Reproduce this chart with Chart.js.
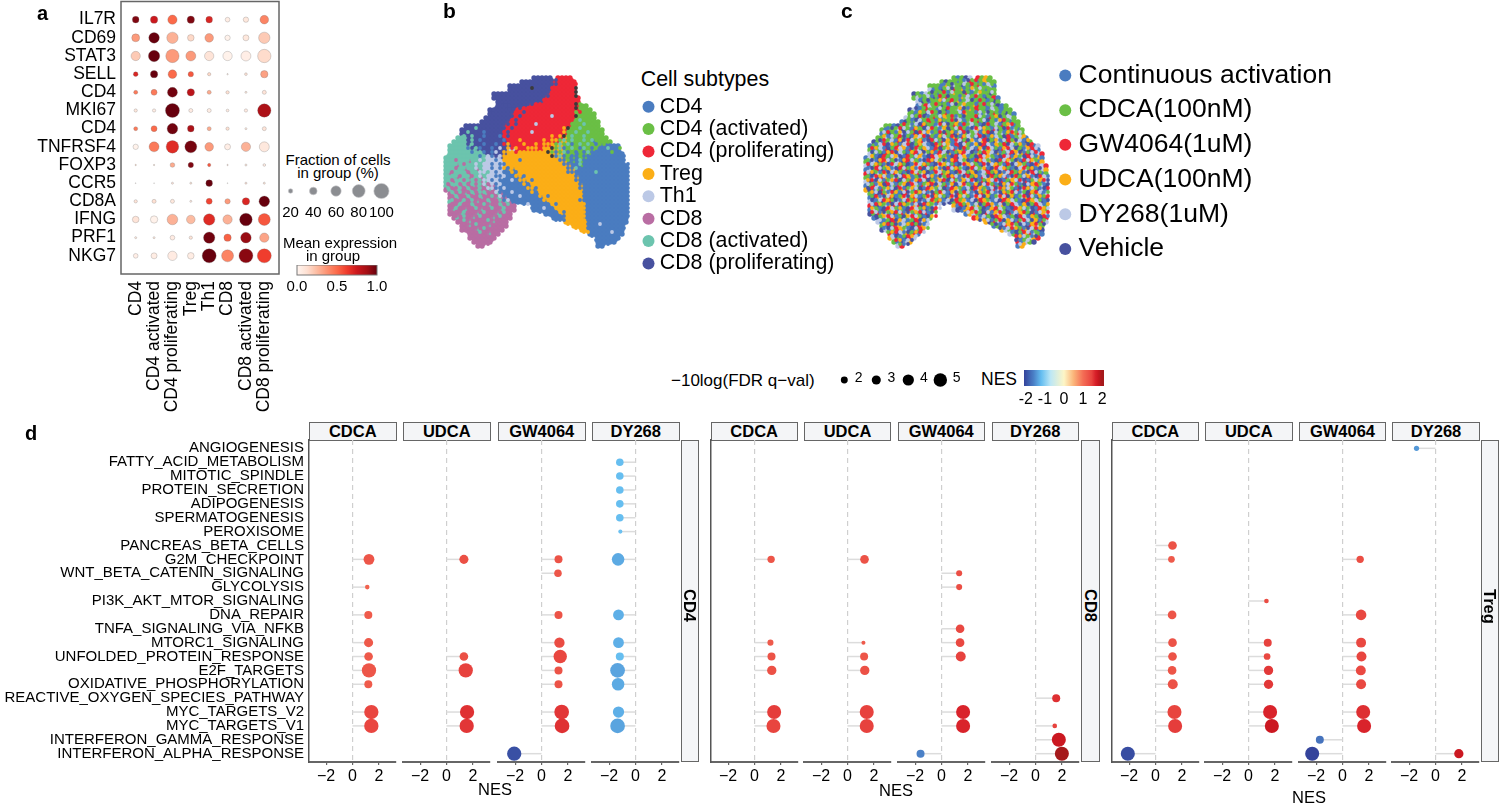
<!DOCTYPE html>
<html>
<head>
<meta charset="utf-8">
<style>
  html, body { margin: 0; background: #fff; }
  #page { position: relative; width: 1500px; height: 804px; overflow: hidden; font-family: "Liberation Sans", Arial, sans-serif; color: #000; }
  #page canvas { position: absolute; }
  .txt { position: absolute; white-space: nowrap; line-height: 1; }
  .strip { position: absolute; box-sizing: border-box; border: 1.5px solid #666; background: #f4f5f7; font-weight: bold; font-size: 16.5px; display: flex; align-items: center; justify-content: center; }
  .strip.side { writing-mode: vertical-rl; padding-top: 10px; }
</style>
<script src="https://cdn.jsdelivr.net/npm/chart.js@4/dist/chart.umd.min.js"></script>
</head>
<body>
<div id="page"></div>
<script>
// panel a
const genes = ['IL7R', 'CD69', 'STAT3', 'SELL', 'CD4', 'MKI67', 'CD4', 'TNFRSF4', 'FOXP3', 'CCR5', 'CD8A', 'IFNG', 'PRF1', 'NKG7'];
const dotGroups = ['CD4', 'CD4 activated', 'CD4 proliferating', 'Treg', 'Th1', 'CD8', 'CD8 activated', 'CD8 proliferating'];
const fractionCells = [
  [33, 38, 52, 38, 33, 21, 25, 47],
  [42, 62, 68, 33, 47, 25, 29, 68],
  [52, 68, 84, 57, 52, 52, 57, 84],
  [21, 38, 47, 25, 13, 4, 10, 38],
  [17, 29, 57, 38, 17, 13, 7, 17],
  [13, 13, 90, 17, 17, 10, 13, 84],
  [17, 29, 62, 33, 17, 13, 7, 17],
  [25, 57, 78, 73, 47, 29, 52, 57],
  [4, 4, 21, 25, 13, 4, 7, 10],
  [2, 2, 7, 7, 33, 2, 7, 7],
  [13, 17, 17, 7, 29, 25, 38, 62],
  [33, 38, 62, 47, 68, 52, 78, 73],
  [7, 7, 21, 13, 68, 38, 62, 52],
  [21, 29, 52, 33, 90, 73, 90, 90]
];
const meanExpression = [
  [.95, .75, .5, .95, .7, .05, .08, .42],
  [.35, 1, .28, .15, .35, .02, .08, .2],
  [.2, 1, .35, .35, .1, .02, .04, .14],
  [.7, 1, .5, .55, .15, .08, .1, .33],
  [.45, .45, .98, .8, .3, .12, .08, .1],
  [.08, .05, 1, .06, .05, .06, .06, .85],
  [.45, .5, .98, .85, .3, .12, .07, .1],
  [.02, .45, .68, .97, .35, .04, .28, .08],
  [.15, .12, .3, .95, .55, .1, .08, .06],
  [.05, .02, .1, .1, 1, .02, .1, .1],
  [.1, .12, .08, .08, .6, .35, .7, 1],
  [.1, .02, .28, .25, .68, .28, 1, .55],
  [.08, .08, .06, .1, .98, .52, .9, .32],
  [.04, .05, .06, .05, 1, .42, .93, .62]
];
const fractionKey = [20, 40, 60, 80, 100];
const expressionTicks = [0, 0.5, 1];

const subtypeNames = ['CD4', 'CD4 (activated)', 'CD4 (proliferating)', 'Treg', 'Th1', 'CD8', 'CD8 (activated)', 'CD8 (proliferating)'];
const subtypeCodes = 'ABCDEFGHK';
const subtypeCells = [
  '......................HHHHH.CCCC',
  '...................HHHHHHHHCCCCCC',
  '................HHHHHHHHHHHCCCCCC',
  '................HHHHHHHHHHHCCCCCC',
  '............HHHHHHHHHHHHHHCCCCCCC',
  '............HHHHHHHHHHHHHCCCCCCCCC',
  '.............HHHHHHHHHHHHCCCCCCCCC',
  '.............HHHHHHHHCCCCCCCCCCCCCBB',
  '...........HHHHHHHCCCCCCCCCCCCCCCCBBB',
  '...........HHHHHHCCCCCCCCCCCCCCCCBBBBB',
  '..........HHHHHHHCCCCCCCCCCCCCCCCBBBBB',
  '.........HHHHHHHCCCCCCCCCCCCCCCCBBBBBBB',
  '.....HHHHHHHHHHCCCCCCCCCCCCCCCCCBBBBBBB',
  '....HHHHHHHHHHHCCCCCCCCCCCCCCCCBBBBBBBBB',
  '....HHHHHHHHHHHCCCCCCCCCCCCCCCCBBBBBBBBB',
  '...GGGHHHHHHHHHCCCCCCCCCCCCCCCDBBBBBBBBBB',
  '..GGGGHHHHHHHHHHCCCCCCCCCCCCCDDBBBBBBABBBB',
  '.GGGGGGHHHHHHHHHHCCCCCCCCCCDDDBBBBBBBBBAAAAA',
  '.GGGGGGGHHHHHHHHEECCCCCCCDDDDDBBBBBBBBAAAAAA',
  '.GGGGGGGGGHHHHHHDDDDDDDDDDDDDDBBBABBBAAAAAAAA',
  'GGGGGGGGGGEEEEHDDDDDDDDDDDDDDDBABABBAAAAAAAAA',
  'GGGGGGFGGGEEEEEDDDDDDDDDDDDDDDDABABAAAAAAAAAA',
  'GGGFGGGGGGEEEEEDDDDDDDDDDDDDDDDDAABAAAAAAAAAAA',
  'GGGGGFGGFGEEEEEADADDDDDDDDDDDDDDDAAAAAAAAAAAAA',
  'GFGGGGFGGGGEEEEAAADDDDDDDDDDDDDDDAAAAAAAAAAAAA',
  'GGGFGGFGGFGEEEEAAAAADDDDDDDDDDDDDDAAAAAAAAAAAA',
  'GGFGGGFGGFGEEEAAAAAAADDDDDDDDDDDDDAAAAAAAAAAAA',
  'GFGGFGFGGFGFFEAAAAAAAADDDDDDDDDDDDDAAAAAAAAAAA',
  'FGFGFFGFGFFGFEAAAAAAAAADDDDDDDDDDDDAAAAAAAAAAA',
  '.FGFFGFGFFGFFGFAAAAAAAAADDDDDDDDDDDAAAAAAAAAAA',
  '.FFGFFGFFGFFFGFFAAAAAAAAADDDDDDDDDDAAAAAAAAAAA',
  '.GFFGFFFGFFGFFFGFAAAAAAAAADDDDDDDDDAAAAAAAAAAA',
  '.FFGFFFGFFFGFFGFFF....AAAAADDDDDDDDAAAAAAAAAAA',
  '.FGFFGFFFGFFFFGFFF....AAAAAADDDDDDDAAAAAAAAAAA',
  '.FFFGFFFGFFFFGFFF........AAAADDDDDDAAAAAAAAAAA',
  '..FGFFFGFFFFGFFFF..........AAADDDDDAAAAAAAAAAA',
  '...FFFGFFFFFGFFF..............DDDDDDAAAAAAAAAA',
  '....FFGFFFFGFFFF................DDDDAAAAAAAAA',
  '....FFFFGFFFFFF...................DDAAAAAAAAA',
  '......FFFFFGFF......................AAAAAAAAA',
  '......FFFFFFF.........................AAAAAA',
  '.......FFFFF..........................AAAAA',
  '........FF............................AA'
];
// second pass, half a cell further on, carries the mixing between the clusters
const subtypeSpecks = [
  '......................HHHHHHCCCC',
  '...................HHHHHHHHHCCCCC',
  '.................HHHHKHHHHCCCCCCK',
  '................HHHHHHHHHHCCCCCCK',
  '.............HHHHHHHHHHHHHCCCCCCK',
  '.............HHHHHHHHHHHCCCCCCCCC',
  '.............H..HHHHHHCCCCCCCCCCKB',
  '............HHH...HCCCCCCCCCCCCCKBB',
  '............HHHHHCCHCCCCCCCCCCCCBCBB',
  '...........HHHHHHCHCCCCCCCECCCCCKBBB',
  '..........HHHHHHCHCCCCCCCCCCCCCCBGBBB',
  '.........HHHHHHHCHCCCCECCCCCCCCBBBGBBB',
  '.....HHGHHHHHHHCHCCCCCCCCCCCCDKBBGBBBB',
  '....HGHHHAHHHHCHCCCCCECCCCCCCDBBGBBGBB',
  '....GHGHHAHHHACHCCCCCCCCCCDCDKBGBBGBBBB',
  '...GGHGHAHHHHHACCCDCCCCCDCDDBGBGBBGBGBBB',
  '..GGGHGHHAHHAHCDCCCDCCDCDDDBGBGABGBGBABB',
  '.GGGGAHGAHHAHEHDCDCCDDDCDDKBGABGBAGBABAAGAAB',
  '.GGGGGAGGAHAEHDDDCDDDDDDDKBABGABABAGAAAAABAA',
  'GGGGGGGGAGEAHEDDDDDDDDDDDDKAGABAABAAAAAAAAAAA',
  'GGFGGGGGEGEEAEDDDDADDDDDDDDDAABAAGAAAAAAAAAAA',
  'GGGGFGGEGEEAEAADDDDDDDDDDDDDDAAAAGAAAAAAAAAAAA',
  'GGFGGGGEGEEAEADADDDDDDDDDDDDDDAAGAAAAAAAAAAAAA',
  'GFGGGFGGEEGEAEAADADDDDDDDDDDDDAAAAAAAGAAAAAAAA',
  'GGGFGGFGEGEEAAEAADDADDDDDDDDDDDDAAAAAAAAAAAAAA',
  'GFGGFGGFGEEAEAAAEADDDADDDDDDDDDDAAAAAAAAAAAAAA',
  'FGGFGFGFGEFEAEAAAAADADDDDDDDDDDDDAAAAAAAAAAAAA',
  'GFFGFGFFGFEEAAEAAAAADDADDDDDDDDDDAAAAAAAAAAAAA',
  '.GFGFFGFGGFFEAAAEAAAADADDDDDDDDDDDAAAAAAAAAAAA',
  '.FGFFGFFGFFGFEAAAAEAAAADDADDDDDDDDAAAAAAAAAAAA',
  '.GFFGFGFFFGFFGAEAAAAAAAADDDDDDDDDAAAAAAAAAAAAA',
  '.FFGFFGFFGFFFGFG...AEAAAAADADDDDDDDAAAAAAAAAAA',
  '.FGFFFFGFFFGFFGFF....AAAEAADDDDDDDDAAAAAAAAAAA',
  '.FFFGFFFFGFFFFGF.......AAAAADADDDDDAAAAAAAAAAA',
  '..FFGFFFGFFFFGFF..........AAAADDDDDAAAAAAAAAAA',
  '...FGFFFFFGFFFF............AAADDDDDAAAAAAAAAA',
  '....FFFGFFFFFFF...............DDDDDAAAEAAAAAA',
  '....FFFFFGFFFF..................DDDAAAAAAAAAA',
  '.....FFFGFFFF.....................DDAAAAAEAA',
  '......FFFFFF........................AAAAAAA',
  '.......FFFFF.........................AAAAAA',
  '........FFF...........................AAA'
];

// panel c: same map, one treatment letter per cell
const treatmentNames = ['Continuous activation', 'CDCA(100nM)', 'GW4064(1uM)', 'UDCA(100nM)', 'DY268(1uM)', 'Vehicle'];
const treatmentCodes = 'agrolv';
const treatmentCells = [
  '......................gagvl.rgog',
  '...................gvggaglrgagogg',
  '................gggaoglgvgagrggla',
  '................lagvggrgogalggagg',
  '............vgalggagggoggraglggvg',
  '............glaggvagrgggolgaggvgra',
  '.............lvgaggagrgoglggagagvg',
  '.............agrlggvgagglggorgaggvag',
  '...........vlagrggagvgglagogrgaglgagg',
  '...........gaggvlgagrgggaogggalgrggvga',
  '..........lgavgggrgaogglagggvgarggaglg',
  '.........avgglagrggvaggogalgrgagglvgagg',
  '.....ggavgglgarvgalgogrgaglagvgaggrglag',
  '....gagglvgarggaogalgvggragloaggrvgaglag',
  '....agvgglagrvoalgagrgvoaglgragvaglgaorg',
  '...gglagrgavolgaragvlaogrglavargalgvragoa',
  '..vgaglarvlgaorlvgarogalvrglaorgvlagrolavg',
  '.agglvagrolvarglavorglarvoalgrvlaogrlavgoral',
  '.gaglrvaolarglvoargvlarogalvrlgoavrlaogvlara',
  '.lgavrgoalvgraolvarlgoavrlagovrlaogarvlorvalr',
  'algvrgaolvrgaolavrlgoarvlogavrolgavlroalvrgoa',
  'galvroaglvraoglarvolgarvloagvrloavgrlaovgrlao',
  'lagrvoalgrvaolgravlogarvlaorgvlaorlvgaolrvaolr',
  'algrvaolvgraolvagrlovagrlvoaglrvoalrvgaolrvalo',
  'ravlgoarlvgaorlvaglrovaglrvoalgrvaolrgvaolrvag',
  'galvroalgvroaglrvaolgvraolgvarlogvarlogavrlaol',
  'lvaogrlavgorlvagrolvagrlovalgrvoalrgvoalrvogal',
  'agrlovagrlvaogrlvaogrlvaolgrvoalrgvaolrgvaorlv',
  'ovagrlavgorlagvrolagvrolavgrlaovrlgaovrlgaovla',
  '.gavrolgavrlogavlrgoavlrgoalvrogalvrogalvrgoal',
  '.avolgrvaolgravolrgavolrgavlorgvalorgvalorgvar',
  '.lagvoralgvoralvgoralvgrolavgrolavrgolavrgolva',
  '.ravgloravglorvagl....oarvlgoarvlgoavrlgoavrlg',
  '.algvrolagvrolavgr....lvaorglvaorglvarogalvrog',
  '.vgrolavgrolagvra........aolgvraolgvrlaogvraol',
  '..avglroavglrovag..........rolagvrolagvrlaogvr',
  '...lagvrolagvrla..............ovrlagovrlagovrl',
  '....gavrolgavrol................agvrolgavrolg',
  '....vlagrolvagr...................olgavrolgav',
  '......ravlogra......................lgvaorlga',
  '......olgavrl.........................vaglor',
  '.......gavlo..........................ralgv',
  '........lr............................ao'
];
const treatmentSpecks = [
  '......................ggavgrgog',
  '...................agvgglgrggalg',
  '.................gaglvggagoglgg',
  '................vggralggvgagoggl',
  '.............gglagrgvggaglgrgag',
  '.............agvggolgrgaglvgrgag',
  '.............l..grggalvgoggagrgl',
  '............vag...lgrggovagrggalga',
  '...........gaoglrgvgagglrggalgvggag',
  '...........lgrvagglogragvggrlgagovgl',
  '..........gavlgrgaoggrvlagrgglvgaorg',
  '.........rgalvoggarlvgoarglgavrglagor',
  '.....avgrlgaogvlrgaovglrgavrlogalgvrag',
  '....lrgaovlgvrloagrvgoalrvglaorvlgaorgl',
  '....oalgrvgaolrvgaolgrvaolglrvaolgvraglo',
  '...vrglaovrlgoavrlgvoarlgvoalrvgoalrgvlao',
  '..alrvogalrvgolavrgloarvlgaovrlaogrvlgoavr',
  '.rolavgrloavrgolarvgolavrglaovrlgaorlvgaorl',
  '.vlgaorvlgaorlvgoarlvagorlvagrolvaglrovaglr',
  '.oavrglovargloavrlogavrloagvrlogavrlaogvrla',
  'gvaorlgvaorlgavrolgvaorlgvarolgavrlogvarlog',
  'rlogavrlogvarlogavrolgavrolgarvlogarvlogavr',
  'avrlgoavrlgoarvlgoavrlogavrlgoavrlogavlrgoav',
  'logarvlogavrlgovarlgoavrlgovalrgovalrgoavrlg',
  'gvrolagvlroagvrloavgrolavrgoalvrgolavrgloavrla',
  'orvlagorvlgaorlvgaorvlgaolrvagolrvagolrvaglorv',
  'lgaovrlagovrlagorvlgaovlrgaovlrgavolrgavlorgav',
  'vrlagolvragolvaroglvarogalvrogalvrolgavrolgavr',
  '.olvgaroalvgrolavgrlaovgrlavogrlavogrlagvorlag',
  '.gravloagrvolagrvolgarvolgarlvoagrlvoagrvlaogr',
  '.valrogvalrgovalrgoalvrgoalvrogalvrolgavrolgav',
  '.lrogavlrogalvrogalv...rgoalvgroalvgrlaovgrlao',
  '.ogavrlgoavrlgoavrl....vaorlgvaorlgavrolgvarol',
  '.rlavgorlavgorlavg.......lorgvlaorgvalorgvalor',
  '..vgorlagvorlgavor..........algvrolagvrlaogvra',
  '...lagrvolagrvol............volagrvolagrlvoag',
  '....orgvalorgval...............gvalorgvlaorgv',
  '....avlrogavlrog.................valrogavlro',
  '.....gorlavgorl.....................avgrlag',
  '......lvagrol........................rolgav',
  '.......roalv.........................vagl',
  '........gav...........................lo'
];

// panel d: [row, NES, -10log q]
const pathways = ['ANGIOGENESIS', 'FATTY_ACID_METABOLISM', 'MITOTIC_SPINDLE', 'PROTEIN_SECRETION', 'ADIPOGENESIS', 'SPERMATOGENESIS', 'PEROXISOME', 'PANCREAS_BETA_CELLS', 'G2M_CHECKPOINT', 'WNT_BETA_CATENIN_SIGNALING', 'GLYCOLYSIS', 'PI3K_AKT_MTOR_SIGNALING', 'DNA_REPAIR', 'TNFA_SIGNALING_VIA_NFKB', 'MTORC1_SIGNALING', 'UNFOLDED_PROTEIN_RESPONSE', 'E2F_TARGETS', 'OXIDATIVE_PHOSPHORYLATION', 'REACTIVE_OXYGEN_SPECIES_PATHWAY', 'MYC_TARGETS_V2', 'MYC_TARGETS_V1', 'INTERFERON_GAMMA_RESPONSE', 'INTERFERON_ALPHA_RESPONSE'];
const drugs = ['CDCA', 'UDCA', 'GW4064', 'DY268'];
const nesTicks = [-2, 0, 2];
const colorbarTicks = [-2, -1, 0, 1, 2];
const qKey = [2, 3, 4, 5];

const cd4Cdca = [[8, 1.25, 3.8], [10, 1.12, .9], [12, 1.2, 2.5], [14, 1.22, 3], [15, 1.22, 2.8], [16, 1.25, 5.4], [17, 1.2, 2.5], [19, 1.43, 5.4], [20, 1.43, 5.4]];
const cd4Udca = [[8, 1.32, 3], [15, 1.32, 2.8], [16, 1.46, 5.4], [19, 1.56, 5.4], [20, 1.53, 5.4]];
const cd4Gw = [[8, 1.29, 2.5], [9, 1.25, 2.3], [12, 1.29, 2.5], [14, 1.36, 3.6], [15, 1.42, 5], [16, 1.29, 2.5], [17, 1.29, 2.5], [19, 1.53, 5.6], [20, 1.56, 5.6], [22, -2.07, 5.4]];
const cd4Dy = [[1, -1.19, 2.3], [2, -1.19, 2.3], [3, -1.19, 2.3], [4, -1.19, 2.3], [5, -1.19, 2.3], [6, -1.15, .7], [8, -1.32, 4.6], [12, -1.29, 3.8], [14, -1.29, 3.8], [15, -1.19, 2.5], [16, -1.36, 5.6], [17, -1.32, 4.6], [19, -1.29, 4], [20, -1.36, 5.6]];

const cd8Cdca = [[8, 1.26, 2.2], [14, 1.21, 1.6], [15, 1.29, 2.5], [16, 1.31, 3.1], [19, 1.49, 5.3], [20, 1.44, 5.3]];
const cd8Udca = [[8, 1.29, 2.8], [14, 1.21, .65], [15, 1.26, 2.5], [16, 1.31, 3.1], [19, 1.46, 5.3], [20, 1.46, 5.3]];
const cd8Gw = [[9, 1.34, 1.6], [10, 1.34, 1.6], [13, 1.41, 2.8], [14, 1.41, 2.8], [15, 1.46, 3.4], [19, 1.64, 5.3], [20, 1.64, 5.3], [22, -1.59, 2.5]];
const cd8Dy = [[18, 1.57, 2.5], [20, 1.46, .95], [21, 1.77, 5.3], [22, 2.0, 5.3]];

const tregCdca = [[7, 1.29, 2.8], [8, 1.21, 1.9], [12, 1.26, 2.8], [14, 1.29, 2.8], [15, 1.29, 2.8], [16, 1.26, 2.8], [17, 1.31, 3.4], [19, 1.44, 5.3], [20, 1.49, 5.3], [22, -2.1, 5.3]];
const tregUdca = [[11, 1.36, .95], [14, 1.46, 2.5], [15, 1.41, 1.9], [16, 1.52, 3.1], [17, 1.52, 3.1], [19, 1.64, 5.3], [20, 1.77, 5.3]];
const tregGw = [[8, 1.34, 2.2], [12, 1.41, 3.7], [14, 1.41, 3.4], [15, 1.44, 3.4], [16, 1.39, 3.4], [17, 1.41, 3.4], [19, 1.57, 5.3], [20, 1.64, 5.3], [21, -1.72, 2.5], [22, -2.3, 5.3]];
const tregDy = [[0, -1.44, 1.2], [22, 1.77, 3.1]];

// colours
const redStops = [[0, '#fff5f0'], [.125, '#fee0d2'], [.25, '#fcbba1'], [.375, '#fc9272'], [.5, '#fb6a4a'], [.625, '#ef3b2c'], [.75, '#cb181d'], [.875, '#a50f15'], [1, '#67000d']];
const nesStops = [[-2.2, '#34439b'], [-1.6, '#4a7fc6'], [-1.2, '#64bdf0'], [-.7, '#bde7f5'], [0, '#fdf6c6'], [.5, '#fbb57a'], [1, '#f46d55'], [1.45, '#e8443f'], [1.65, '#d8212a'], [1.8, '#c8161f'], [2, '#a5191b']];
const subtypeColors = ['#4a7cc0', '#6abf45', '#ee2737', '#fbae17', '#bcc9e6', '#b96da3', '#6cc4ae', '#47519f', '#3a3a3a'];
const treatmentColors = ['#4a7cc0', '#6abf45', '#ee2737', '#fbae17', '#bcc9e6', '#47519f'];

Chart.defaults.font.family = '"Liberation Sans", Arial, sans-serif';
Chart.defaults.color = '#000';
Chart.defaults.animation = false;
Chart.defaults.responsive = false;
Chart.defaults.plugins.tooltip.enabled = false;
Chart.defaults.plugins.legend.display = false;

const page = document.getElementById('page');

function hexToRgb(h) {
  return [1, 3, 5].map(i => parseInt(h.slice(i, i + 2), 16));
}

function colorAt(stops, v) {
  if (v <= stops[0][0]) return stops[0][1];
  for (let i = 1; i < stops.length; i++) {
    if (v <= stops[i][0]) {
      const t = (v - stops[i - 1][0]) / (stops[i][0] - stops[i - 1][0]);
      const a = hexToRgb(stops[i - 1][1]), b = hexToRgb(stops[i][1]);
      return `rgb(${a.map((c, k) => Math.round(c + (b[k] - c) * t)).join(',')})`;
    }
  }
  return stops[stops.length - 1][1];
}

function addText(str, x, y, size, align, extra) {
  const d = document.createElement('div');
  d.className = 'txt';
  d.textContent = str;
  const shift = align === 'center' ? '-50%' : '0';
  d.style.cssText = `left:${x}px;top:${y}px;font-size:${size}px;transform:translate(${shift},-50%);${extra || ''}`;
  page.appendChild(d);
}

function addStrip(str, l, t, w, h, side) {
  const d = document.createElement('div');
  d.className = side ? 'strip side' : 'strip';
  d.textContent = str;
  d.style.cssText = `left:${l}px;top:${t}px;width:${w}px;height:${h}px;`;
  page.appendChild(d);
}

// chart whose plot area lands on a given box, margins hold the axes
function boxChart(box, m, config) {
  const c = document.createElement('canvas');
  c.width = box.w + m.l + m.r;
  c.height = box.h + m.t + m.b;
  c.style.left = (box.l - m.l) + 'px';
  c.style.top = (box.t - m.t) + 'px';
  page.appendChild(c);
  const noPad = s => { s.paddingLeft = s.paddingRight = s.paddingTop = s.paddingBottom = 0; };
  const { x, y } = config.options.scales;
  if (x.display !== false) x.afterFit = s => { s.height = m.b; noPad(s); };
  if (y.display !== false) y.afterFit = s => { s.width = m.l; noPad(s); };
  config.options.layout = {
    autoPadding: false, // bubbles would otherwise shrink the plot by their radius
    padding: {
      left: y.display === false ? m.l : 0,
      bottom: x.display === false ? m.b : 0,
      right: m.r,
      top: m.t
    }
  };
  return new Chart(c, config);
}

const hidden = { display: false };
const fixedTicks = list => s => { s.ticks = list.map(value => ({ value })); };

// ---- a: dot plot
const fractionRadius = f => 7.6 * Math.pow(f / 100, 0.75);
const dotPoints = [];
const dotColors = [];
genes.forEach((g, row) => dotGroups.forEach((name, col) => {
  dotPoints.push({ x: col, y: row, r: fractionRadius(fractionCells[row][col]) });
  dotColors.push(colorAt(redStops, meanExpression[row][col]));
}));

const framePlugin = {
  id: 'frame',
  afterDraw(chart) {
    const a = chart.chartArea, ctx = chart.ctx;
    ctx.save();
    ctx.strokeStyle = '#666';
    ctx.lineWidth = 1.5;
    ctx.strokeRect(a.left, a.top, a.width, a.height);
    ctx.restore();
  }
};

boxChart({ l: 121, t: 1.5, w: 158, h: 273 }, { l: 121, r: 2, t: 1.5, b: 145 }, {
  type: 'bubble',
  data: { datasets: [{ data: dotPoints, backgroundColor: dotColors, borderColor: 'rgba(110,110,110,.45)', borderWidth: .6 }] },
  plugins: [framePlugin],
  options: {
    scales: {
      x: {
        type: 'linear', min: -.8, max: 7.8, afterBuildTicks: fixedTicks(dotGroups.map((_, i) => i)),
        grid: { display: false, tickLength: 5, tickColor: '#444' }, border: { display: false },
        ticks: { callback: v => dotGroups[v], autoSkip: false, minRotation: 90, maxRotation: 90, padding: 2, font: { size: 17.5 } }
      },
      y: {
        type: 'linear', reverse: true, min: -1, max: 14, afterBuildTicks: fixedTicks(genes.map((_, i) => i)),
        grid: { display: false, tickLength: 4, tickColor: '#444' }, border: { display: false },
        ticks: { callback: v => genes[v], autoSkip: false, padding: 1, font: { size: 17.5 } }
      }
    }
  }
});

addText('Fraction of cells', 338, 159, 15, 'center');
addText('in group (%)', 338, 172, 15, 'center');

boxChart({ l: 285, t: 181, w: 102, h: 20 }, { l: 6, r: 12, t: 0, b: 18 }, {
  type: 'bubble',
  data: { datasets: [{ clip: false, data: fractionKey.map(f => ({ x: f, y: 0, r: fractionRadius(f) })), backgroundColor: '#8b8d91', borderColor: '#c4c5c7', borderWidth: .6 }] },
  options: {
    scales: {
      x: {
        type: 'linear', min: 20 - 10 * 10 / 20.4, max: 100 + 10 * 10 / 20.4, afterBuildTicks: fixedTicks(fractionKey),
        grid: { display: false, tickLength: 2, tickColor: '#999' }, border: { display: false },
        ticks: { padding: 1, maxRotation: 0, autoSkip: false, font: { size: 15 } }
      },
      y: { display: false, min: -1, max: 1 }
    }
  }
});

addText('Mean expression', 340, 242, 15, 'center');
addText('in group', 333, 255, 15, 'center');

const gradientBar = (stops, lo, hi, edge) => ({
  id: 'gradientBar',
  beforeDraw(chart) {
    const a = chart.chartArea, sx = chart.scales.x, ctx = chart.ctx;
    const left = sx.getPixelForValue(lo), right = sx.getPixelForValue(hi);
    const g = ctx.createLinearGradient(left, 0, right, 0);
    stops.filter(s => s[0] >= lo && s[0] <= hi).forEach(s => g.addColorStop((s[0] - lo) / (hi - lo), s[1]));
    ctx.save();
    ctx.fillStyle = g;
    ctx.fillRect(left, a.top, right - left, a.height);
    if (edge) {
      ctx.strokeStyle = edge;
      ctx.strokeRect(left, a.top, right - left, a.height);
    }
    ctx.restore();
  }
});

boxChart({ l: 297, t: 265, w: 80, h: 10 }, { l: 12, r: 14, t: 0, b: 20 }, {
  type: 'scatter',
  data: { datasets: [] },
  plugins: [gradientBar(redStops, 0, 1, '#777')],
  options: {
    scales: {
      x: {
        type: 'linear', min: 0, max: 1, afterBuildTicks: fixedTicks(expressionTicks),
        grid: { display: false, tickLength: 2, tickColor: '#777' }, border: { display: false },
        ticks: { callback: v => v.toFixed(1), autoSkip: false, maxRotation: 0, padding: 1, font: { size: 15 } }
      },
      y: { display: false, min: 0, max: 1 }
    }
  }
});

// ---- b / c: UMAP maps
function cellLayer(cells, codes, colors, offset, radius) {
  const data = [], pointBackgroundColor = [];
  cells.forEach((line, row) => [...line].forEach((ch, col) => {
    const k = codes.indexOf(ch);
    if (k >= 0) {
      data.push({ x: col + offset, y: row + offset });
      pointBackgroundColor.push(colors[k]);
    }
  }));
  return { data, pointBackgroundColor, pointBorderWidth: 0, pointRadius: radius, order: 1 - offset * 2 };
}

function umapChart(left, cells, specks, codes, colors) {
  boxChart({ l: left, t: 74, w: 192, h: 176 }, { l: 0, r: 0, t: 0, b: 0 }, {
    type: 'scatter',
    data: { datasets: [cellLayer(cells, codes, colors, 0, 2.7), cellLayer(specks, codes, colors, .5, 1.9)] },
    options: {
      scales: {
        x: { display: false, min: -1, max: 47 },
        y: { display: false, reverse: true, min: -1, max: 43 }
      }
    }
  });
}
umapChart(442, subtypeCells, subtypeSpecks, subtypeCodes, subtypeColors);
umapChart(862, treatmentCells, treatmentSpecks, treatmentCodes, treatmentColors);

// legends only charts, so the plots above keep their exact box
function legendChart(box, names, colors, fontSize, padding, markerW) {
  const c = document.createElement('canvas');
  c.width = box.w;
  c.height = box.h;
  c.style.left = box.l + 'px';
  c.style.top = box.t + 'px';
  page.appendChild(c);
  const chart = new Chart(c, {
    type: 'scatter',
    data: { datasets: names.map((label, i) => ({ label, data: [], backgroundColor: colors[i], borderColor: colors[i], borderWidth: 0, pointStyle: 'circle' })) },
    options: {
      layout: { padding: { left: 8 } },
      scales: { x: hidden, y: hidden },
      plugins: {
        legend: {
          display: true,
          position: 'left',
          align: 'start',
          labels: { usePointStyle: true, boxWidth: markerW, boxHeight: 8.5, padding, color: '#000', font: { size: fontSize, lineHeight: 1 } }
        }
      }
    }
  });
  // the legend clips to its own box, which cuts the wide labels and the markers
  chart.legend.draw = function () { this._draw(); };
  chart.render();
}
addText('Cell subtypes', 640.7, 80, 21.4, 'left');
legendChart({ l: 639.1, t: 95.1, w: 240, h: 190 }, subtypeNames, subtypeColors, 21.4, 1, 1);
legendChart({ l: 1048.5, t: 54, w: 330, h: 225 }, treatmentNames, treatmentColors, 26.5, 8.2, .1);

// ---- d: lollipop facets
const qRadius = q => 1.3 + 1.08 * q;
const minusSign = v => (v < 0 ? '\u2212' + (-v) : String(v));

function facet(l, w, rows, mode) {
  const stems = rows.map(r => ({
    type: 'line',
    order: 2,
    data: [{ x: 0, y: r[0] }, { x: r[1], y: r[0] }],
    borderColor: '#dcdcdc',
    borderWidth: 1.5,
    pointRadius: 0
  }));
  const left = mode === 'labels' ? l : mode === 'axis' ? 12 : 2;
  const y = mode === 'none' ? { display: false, reverse: true, min: -.6, max: 22.6 } : {
    type: 'linear', reverse: true, min: -.6, max: 22.6, afterBuildTicks: fixedTicks(pathways.map((_, i) => i)),
    grid: { display: false, tickLength: 4, tickColor: '#555' },
    border: { color: '#555', width: 1.5 },
    ticks: { display: mode === 'labels', callback: v => pathways[v], autoSkip: false, padding: 1, font: { size: 15 } }
  };
  boxChart({ l, t: 440, w, h: 322 }, { l: left, r: 2, t: 2, b: 24 }, {
    type: 'bubble',
    data: {
      datasets: [{
        order: 1,
        clip: false,
        data: rows.map(r => ({ x: r[1], y: r[0], r: qRadius(r[2]) })),
        backgroundColor: rows.map(r => colorAt(nesStops, r[1])),
        borderWidth: 0
      }, ...stems]
    },
    options: {
      scales: {
        x: {
          type: 'linear', min: -3.3, max: 3.3, afterBuildTicks: fixedTicks(nesTicks),
          grid: { color: c => (c.tick && c.tick.value === 0 ? '#cfcfcf' : 'transparent'), lineWidth: 1.2, tickLength: 3, tickColor: '#666' },
          border: { color: '#666', width: 2, dash: [5, 4] },
          ticks: { callback: minusSign, autoSkip: false, maxRotation: 0, padding: 2, font: { size: 16 } }
        },
        y
      }
    }
  });
}

const facetGroups = [
  { name: 'CD4', lefts: [309, 403, 498, 592], width: 87.5, sideL: 680.5, nes: [495, 789], sets: [cd4Cdca, cd4Udca, cd4Gw, cd4Dy], first: 'labels' },
  { name: 'CD8', lefts: [710.7, 804, 897.7, 991.7], width: 87, sideL: 1081, nes: [896, 790], sets: [cd8Cdca, cd8Udca, cd8Gw, cd8Dy], first: 'axis' },
  { name: 'Treg', lefts: [1111.7, 1205, 1298.7, 1392.3], width: 87.5, sideL: 1480.5, nes: [1309, 797], sets: [tregCdca, tregUdca, tregGw, tregDy], first: 'axis' }
];

facetGroups.forEach(g => {
  g.lefts.forEach((l, i) => {
    addStrip(drugs[i], l, 421.5, g.width, 19);
    facet(l, g.width, g.sets[i], i === 0 ? g.first : 'none');
  });
  addStrip(g.name, g.sideL, 440, 18.5, 322, true);
  addText('NES', g.nes[0], g.nes[1], 16.5, 'center');
});

// d key: size and colour
addText('\u221210log(FDR q\u2212val)', 671, 380, 17, 'left');

const keyLabels = {
  id: 'keyLabels',
  afterDatasetsDraw(chart) {
    const ctx = chart.ctx, sx = chart.scales.x, sy = chart.scales.y;
    ctx.save();
    ctx.fillStyle = '#000';
    ctx.font = '14px "Liberation Sans"';
    ctx.textBaseline = 'middle';
    qKey.forEach(v => ctx.fillText(String(v), sx.getPixelForValue(v) + 9 + v * .7, sy.getPixelForValue(0) - 2));
    ctx.restore();
  }
};
boxChart({ l: 828, t: 368, w: 140, h: 24 }, { l: 0, r: 0, t: 0, b: 0 }, {
  type: 'bubble',
  data: { datasets: [{ clip: false, data: qKey.map(v => ({ x: v, y: 0, r: qRadius(v) })), backgroundColor: '#000', borderWidth: 0 }] },
  plugins: [keyLabels],
  options: {
    scales: {
      x: { display: false, min: 2 - 16.3 / 32, max: 5 + 27.7 / 32 },
      y: { display: false, min: -1, max: 1 }
    }
  }
});

addText('NES', 981, 380, 17.5, 'left');
boxChart({ l: 1024, t: 370, w: 80, h: 16.5 }, { l: 6, r: 6, t: 0, b: 22 }, {
  type: 'scatter',
  data: { datasets: [] },
  plugins: [gradientBar(nesStops.map(s => [Math.max(s[0], -2.1), s[1]]), -2.1, 2.1)],
  options: {
    scales: {
      x: {
        type: 'linear', min: -2.1, max: 2.1, afterBuildTicks: fixedTicks(colorbarTicks),
        grid: { display: false, drawTicks: false }, border: { display: false },
        ticks: { autoSkip: false, maxRotation: 0, padding: 4, callback: v => String(v), font: { size: 16 } }
      },
      y: { display: false, min: 0, max: 1 }
    }
  }
});

// panel letters
addText('a', 37, 13, 20, 'left', 'font-weight:bold;');
addText('b', 443, 10, 21, 'left', 'font-weight:bold;');
addText('c', 841, 10, 21, 'left', 'font-weight:bold;');
addText('d', 25, 433, 20, 'left', 'font-weight:bold;');
</script>
</body>
</html>
